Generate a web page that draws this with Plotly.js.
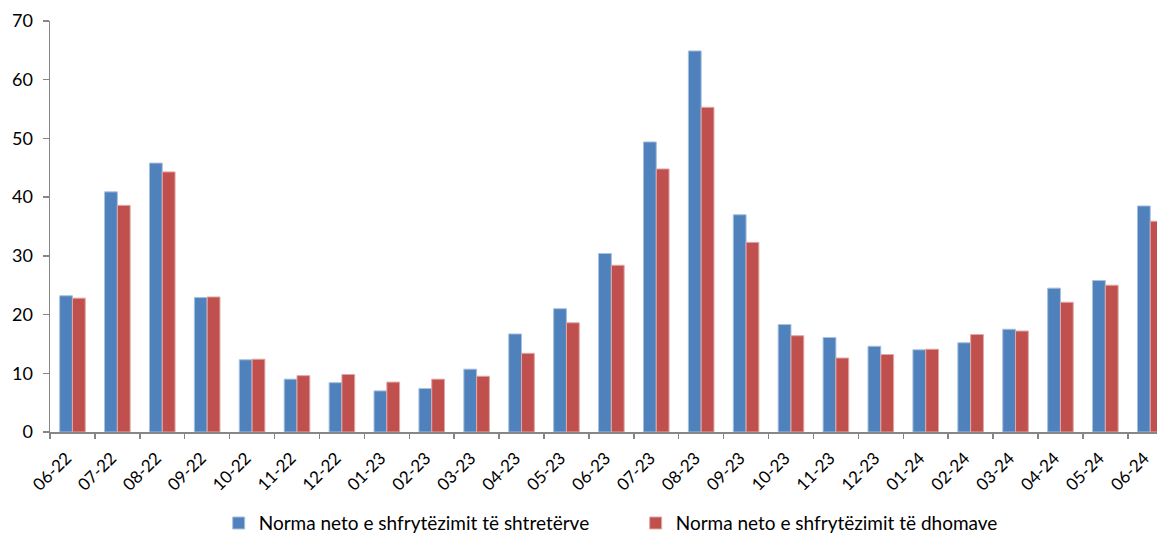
<!DOCTYPE html>
<html>
<head>
<meta charset="utf-8">
<script src="https://cdn.plot.ly/plotly-3.0.1.min.js"></script>
<style>html,body{margin:0;padding:0;background:#fff;}#chart{width:1157px;height:536px;}</style>
</head>
<body>
<div id="chart"></div>
<script>
const categories = ["06-22","07-22","08-22","09-22","10-22","11-22","12-22","01-23","02-23","03-23","04-23","05-23","06-23","07-23","08-23","09-23","10-23","11-23","12-23","01-24","02-24","03-24","04-24","05-24","06-24"];
const bedsRate = [23.2,40.9,45.8,22.9,12.3,9.0,8.4,7.0,7.4,10.7,16.7,21.0,30.4,49.4,64.9,37.0,18.3,16.1,14.6,14.0,15.2,17.5,24.5,25.8,38.5];
const roomsRate = [22.8,38.6,44.3,23.0,12.4,9.6,9.8,8.5,9.0,9.5,13.4,18.6,28.4,44.8,55.3,32.3,16.4,12.6,13.2,14.1,16.6,17.2,22.1,25.0,35.9];
const seriesNames = ["Norma neto e shfrytëzimit të shtretërve","Norma neto e shfrytëzimit të dhomave"];
const yTicks = [0,10,20,30,40,50,60,70];

const font = "Lato, 'Open Sans', sans-serif";
const data = [
  {type:"bar", x:categories, y:bedsRate, name:seriesNames[0],
   marker:{color:"#4F81BD", line:{color:"#A7C0DE", width:1}}},
  {type:"bar", x:categories, y:roomsRate, name:seriesNames[1],
   marker:{color:"#C0504D", line:{color:"#E0A8A6", width:1}}}
];
const layout = {
  width:1157, height:536,
  margin:{l:50, r:0, t:21, b:104},
  paper_bgcolor:"#fff", plot_bgcolor:"#fff",
  bargap:0.43, bargroupgap:0,
  showlegend:true,
  font:{family:font, color:"#000"},
  xaxis:{type:"category", range:[-0.5, 24.15], tickangle:-45, automargin:false,
    showline:true, linecolor:"#868686", linewidth:1.5,
    ticks:"outside", tickson:"boundaries", ticklen:5, tickcolor:"#868686", tickwidth:1.5,
    ticklabelstandoff:8, ticklabelshift:-6,
    showgrid:false, tickfont:{size:17, family:font, color:"#000"}, fixedrange:true},
  yaxis:{range:[0,70], tickvals:yTicks, showline:true, linecolor:"#868686", linewidth:1.5, automargin:false,
    ticks:"outside", ticklen:6, tickcolor:"#868686", tickwidth:1.5, ticklabelstandoff:6,
    showgrid:false, zeroline:false, tickfont:{size:18, family:font, color:"#000"}, fixedrange:true},
  legend:{orientation:"h", xref:"container", yref:"container", x:0.189, xanchor:"left", y:0.024, yanchor:"middle",
    font:{size:19, family:font, color:"#000"}, entrywidth:372, itemwidth:30}
};
Plotly.newPlot("chart", data, layout, {displayModeBar:false, staticPlot:true});
</script>
</body>
</html>
